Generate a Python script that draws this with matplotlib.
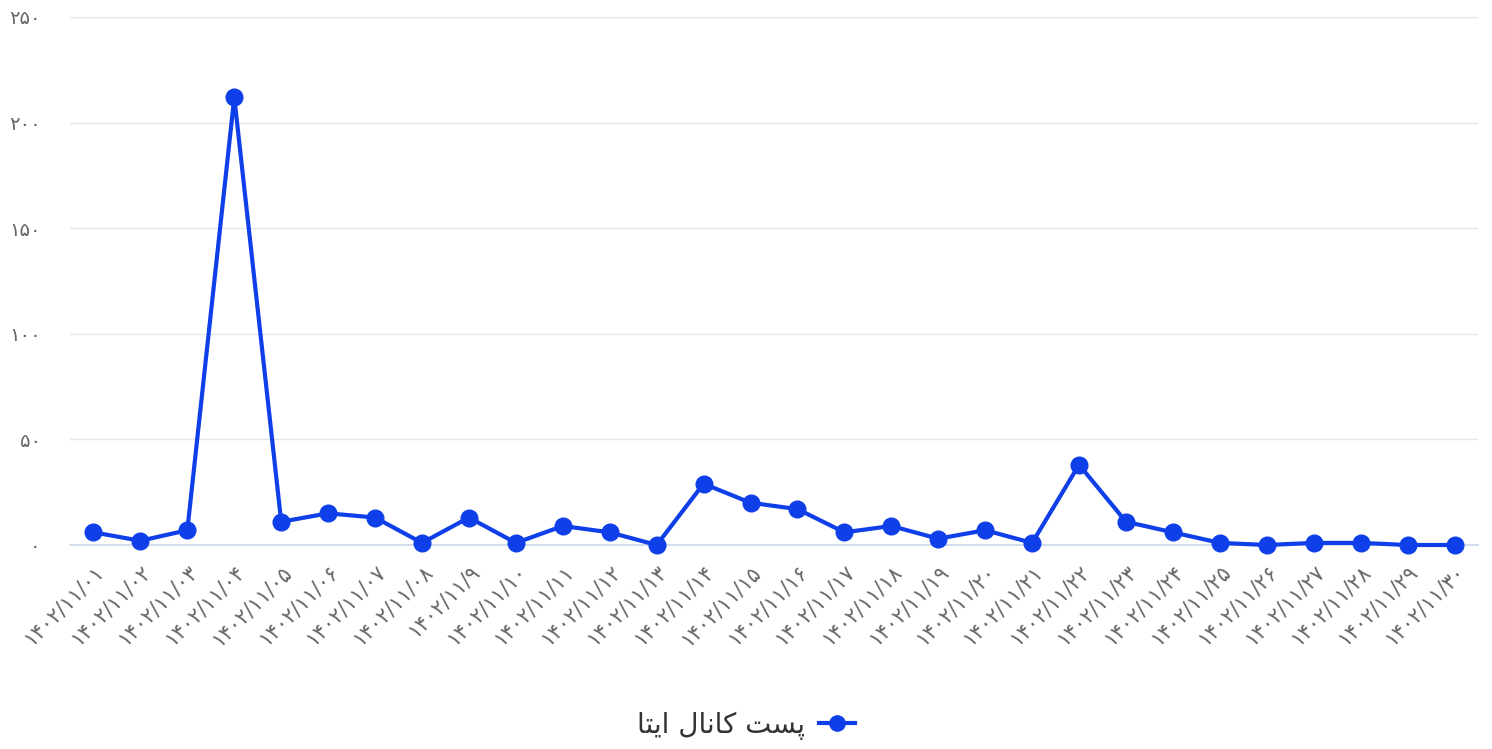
import matplotlib
matplotlib.use("Agg")
import matplotlib.pyplot as plt
from matplotlib.lines import Line2D

dates = ["۱۴۰۲/۱۱/۰۱", "۱۴۰۲/۱۱/۰۲", "۱۴۰۲/۱۱/۰۳", "۱۴۰۲/۱۱/۰۴", "۱۴۰۲/۱۱/۰۵",
         "۱۴۰۲/۱۱/۰۶", "۱۴۰۲/۱۱/۰۷", "۱۴۰۲/۱۱/۰۸", "۱۴۰۲/۱۱/۹", "۱۴۰۲/۱۱/۱۰",
         "۱۴۰۲/۱۱/۱۱", "۱۴۰۲/۱۱/۱۲", "۱۴۰۲/۱۱/۱۳", "۱۴۰۲/۱۱/۱۴", "۱۴۰۲/۱۱/۱۵",
         "۱۴۰۲/۱۱/۱۶", "۱۴۰۲/۱۱/۱۷", "۱۴۰۲/۱۱/۱۸", "۱۴۰۲/۱۱/۱۹", "۱۴۰۲/۱۱/۲۰",
         "۱۴۰۲/۱۱/۲۱", "۱۴۰۲/۱۱/۲۲", "۱۴۰۲/۱۱/۲۳", "۱۴۰۲/۱۱/۲۴", "۱۴۰۲/۱۱/۲۵",
         "۱۴۰۲/۱۱/۲۶", "۱۴۰۲/۱۱/۲۷", "۱۴۰۲/۱۱/۲۸", "۱۴۰۲/۱۱/۲۹", "۱۴۰۲/۱۱/۳۰"]
posts = [6, 2, 7, 212, 11, 15, 13, 1, 13, 1, 9, 6, 0, 29, 20, 17, 6, 9, 3, 7,
         1, 38, 11, 6, 1, 0, 1, 1, 0, 0]
y_ticks = [0, 50, 100, 150, 200, 250]
y_tick_labels = ["۰", "۵۰", "۱۰۰", "۱۵۰", "۲۰۰", "۲۵۰"]
# "پست کانال ایتا" pre-shaped (presentation forms, visual order)
series_name = "\uFE8E\uFE98\uFBFE\uFE8D \uFEDD\uFE8E\uFEE7\uFE8E\uFB90 \uFE96\uFEB4\uFB58"

color = "#0f3fe8"
plt.rcParams['font.family'] = ['DejaVu Sans']

fig = plt.figure(figsize=(14.92, 7.49), dpi=100)
ax = fig.add_axes([70/1492, 1-545/749, 1408/1492, 528/749])
x = list(range(len(dates)))
ax.plot(x, posts, color=color, lw=3, marker='o', ms=12, zorder=3, clip_on=False)
ax.set_xlim(-0.5, len(dates)-0.5)
ax.set_ylim(0, 250)
ax.set_yticks(y_ticks)
ax.set_yticklabels(y_tick_labels, fontsize=14, color="#666666")
ax.set_xticks(x)
ax.set_xticklabels(dates, rotation=45, ha='right', rotation_mode='anchor', fontsize=15, color="#666666")
ax.tick_params(axis='y', length=0, pad=21)
ax.tick_params(axis='x', length=0, pad=12)
ax.grid(axis='y', color="#e6e6e6", lw=1)
ax.set_axisbelow(True)
for s in ['top', 'right', 'left']:
    ax.spines[s].set_visible(False)
ax.spines['bottom'].set_color("#ccd6eb")
ax.spines['bottom'].set_linewidth(1.2)

handle = Line2D([], [], color=color, lw=3, marker='o', ms=11)
fig.legend([handle], [series_name], loc='center', bbox_to_anchor=(0.5, 1-725/749),
           frameon=False, markerfirst=False, fontsize=20, handlelength=1.3,
           handletextpad=0.5, labelcolor="#333333")
fig.savefig("out.png", dpi=100)
